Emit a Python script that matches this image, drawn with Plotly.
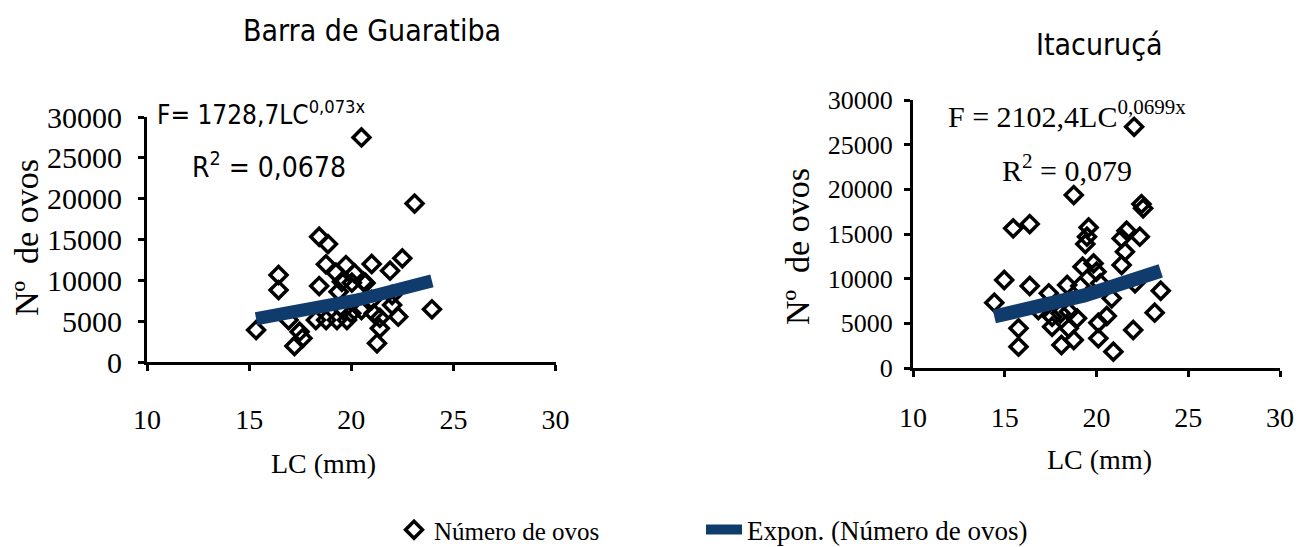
import numpy as np
import plotly.graph_objects as go

# Barra de Guaratiba: carapace length LC (mm) and number of eggs per female
lc_barra = [20.5, 23.1, 18.43, 18.86, 16.44, 16.44, 18.43, 18.76, 19.25, 19.74,
            19.54, 20.03, 20.16, 20.6, 21.0, 21.9, 22.5, 23.95, 22.3, 22.0,
            21.1, 20.5, 21.4, 21.26, 15.34, 16.93, 17.47, 17.61, 17.22, 18.27,
            18.77, 19.3, 19.79, 20.0, 19.6, 22.0, 21.0, 19.38, 20.7, 21.4]
ovos_barra = [27500, 19400, 15340, 14440, 10650, 8810, 9300, 11960, 10930, 11870,
              9830, 9710, 10860, 9830, 12000, 11180, 12690, 6450, 5550, 6980,
              5960, 6360, 4120, 2290, 3920, 5140, 3710, 2900, 1960, 5140,
              5140, 5140, 5140, 5960, 6360, 8200, 7590, 8600, 9670, 5400]

# Itacuruçá
lc_itac = [22.05, 18.76, 22.45, 22.54, 15.46, 16.36, 19.57, 19.48, 19.39, 21.64,
           22.36, 21.37, 21.55, 21.37, 19.24, 19.84, 20.0, 14.97, 16.36, 17.4,
           18.4, 19.12, 20.2, 22.1, 20.83, 23.5, 14.43, 16.83, 23.17, 15.75,
           15.75, 17.58, 18.09, 18.76, 18.49, 20.1, 20.92, 22.0, 20.1, 20.56,
           17.58, 18.94, 18.04, 18.5]
ovos_itac = [27000, 19360, 18350, 17870, 15630, 16110, 15740, 14700, 13880, 15370,
             14700, 14510, 13020, 11530, 11340, 11710, 10780, 9850, 9180, 8360,
             9290, 9180, 9480, 9480, 7800, 8650, 7310, 6490, 6190, 4440,
             2390, 4620, 2570, 3130, 4440, 3320, 1830, 4250, 5070, 5820,
             5740, 5560, 6120, 6300]

# exponential trend F = a * exp(b * LC)
fit_barra = (1728.7, 0.073)
fit_itac = (2102.4, 0.0699)

x_ticks = [10, 15, 20, 25, 30]
y_ticks = [0, 5000, 10000, 15000, 20000, 25000, 30000]

TREND_COLOR = "#0f3c6d"
SERIF = "Liberation Serif, Times New Roman, serif"
NARROW = "Liberation Sans Narrow, DejaVu Sans Condensed, Arial Narrow, Liberation Sans, sans-serif"


def trend(lc, fit):
    a, b = fit
    xs = np.linspace(min(lc), max(lc), 60)
    return xs, a * np.exp(b * xs)


fig = go.Figure()

marker = dict(symbol="diamond-open", size=13, color="black", line=dict(width=3.5, color="black"))

fig.add_trace(go.Scatter(x=lc_barra, y=ovos_barra, mode="markers", marker=marker,
                         name="Número de ovos", legend="legend", xaxis="x", yaxis="y"))
tx, ty = trend(lc_barra, fit_barra)
fig.add_trace(go.Scatter(x=tx, y=ty, mode="lines", line=dict(color=TREND_COLOR, width=13),
                         name="Expon. (Número de ovos)", legend="legend2", xaxis="x", yaxis="y"))

fig.add_trace(go.Scatter(x=lc_itac, y=ovos_itac, mode="markers", marker=marker,
                         showlegend=False, xaxis="x2", yaxis="y2"))
tx2, ty2 = trend(lc_itac, fit_itac)
fig.add_trace(go.Scatter(x=tx2, y=ty2, mode="lines", line=dict(color=TREND_COLOR, width=14),
                         showlegend=False, xaxis="x2", yaxis="y2"))

W, H = 1299, 547


def px_x(p):
    return p / W


def px_y(p):
    return (H - p) / H


axis_common = dict(showline=True, linecolor="black", linewidth=3, ticks="outside",
                   ticklen=6, tickwidth=3, tickcolor="black", showgrid=False,
                   zeroline=False, mirror=False)

fig.update_layout(
    width=W, height=H,
    margin=dict(l=0, r=0, t=0, b=0, autoexpand=False),
    paper_bgcolor="white", plot_bgcolor="white",
    xaxis=dict(domain=[px_x(147), px_x(555.5)], range=[10, 30], tickvals=x_ticks,
               anchor="y", tickfont=dict(family=SERIF, size=28, color="black"),
               ticklabelstandoff=24, **axis_common),
    yaxis=dict(domain=[px_y(362), px_y(117)], range=[0, 30000], tickvals=y_ticks,
               tickformat="d", anchor="x", tickfont=dict(family=SERIF, size=30, color="black"),
               ticklabelstandoff=10, **axis_common),
    xaxis2=dict(domain=[px_x(913), px_x(1280)], range=[10, 30], tickvals=x_ticks,
                anchor="y2", tickfont=dict(family=SERIF, size=28, color="black"),
                ticklabelstandoff=16, **axis_common),
    yaxis2=dict(domain=[px_y(368), px_y(100)], range=[0, 30000], tickvals=y_ticks,
                tickformat="d", anchor="x2", tickfont=dict(family=SERIF, size=26, color="black"),
                ticklabelstandoff=6, **axis_common),
    legend=dict(x=px_x(394), y=px_y(530), xanchor="left", yanchor="middle",
                orientation="h", bgcolor="rgba(0,0,0,0)",
                font=dict(family=SERIF, size=25, color="black")),
    legend2=dict(x=px_x(701), y=px_y(530), xanchor="left", yanchor="middle",
                 orientation="h", bgcolor="rgba(0,0,0,0)", itemwidth=36,
                 font=dict(family=SERIF, size=27, color="black")),
    showlegend=True,
)

ann = []


def text(x, y, s, size, family, angle=0, xanchor="center"):
    ann.append(dict(x=px_x(x), y=px_y(y), xref="paper", yref="paper", text=s,
                    showarrow=False, xanchor=xanchor, yanchor="middle", textangle=angle,
                    font=dict(family=family, size=size, color="black")))


# panel titles
text(372, 30, "Barra de Guaratiba", 30, NARROW)
text(1099, 44, "Itacuruçá", 30, NARROW)

# axis titles
text(26, 238, "Nº\u00a0\u00a0de ovos", 34, SERIF, angle=-90)
text(797, 247, "Nº\u00a0\u00a0de ovos", 34, SERIF, angle=-90)
text(323, 464, "LC (mm)", 28, SERIF)
text(1099, 459, "LC (mm)", 28, SERIF)

# fitted equations
a1, b1 = fit_barra
a2, b2 = fit_itac
text(155, 113, "F= " + f"{a1:.1f}".replace(".", ",") + "LC<sup>" + f"{b1:.3f}".replace(".", ",") + "x</sup>",
     26, NARROW, xanchor="left")
text(190, 165, "R<sup>2</sup> = 0,0678", 28, NARROW, xanchor="left")
text(946, 114, "F = " + f"{a2:.1f}".replace(".", ",") + "LC<sup>" + f"{b2:.4f}".replace(".", ",") + "x</sup>",
     30, SERIF, xanchor="left")
text(1000, 168, "R<sup>2</sup> = 0,079", 30, SERIF, xanchor="left")

fig.update_layout(annotations=ann)

fig.write_html("out.html")
